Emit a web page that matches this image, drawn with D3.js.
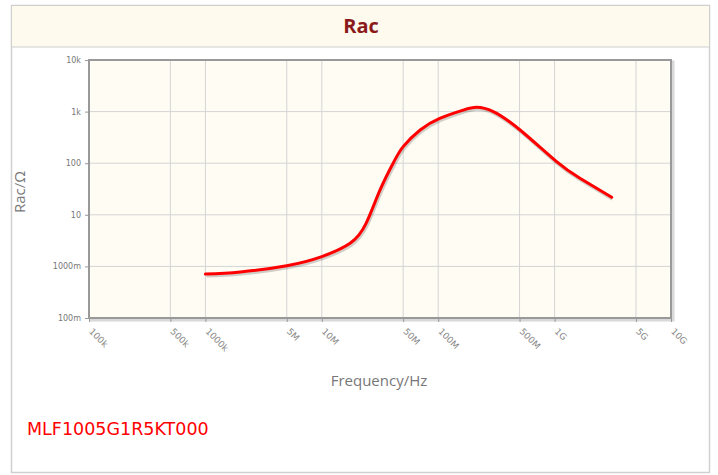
<!DOCTYPE html>
<html><head><meta charset="utf-8">
<script src="https://cdn.jsdelivr.net/npm/d3@7"></script>
<style>html,body{margin:0;padding:0;background:#fff;}svg{display:block;}</style>
</head><body>
<svg id="c" width="718" height="475"></svg>
<script>
const chartTitle = "Rac";
const partName = "MLF1005G1R5KT000";
const xTitle = "Frequency/Hz";
const yTitle = "Rac/Ω";
const freqHz = [1.0e6, 2.0e6, 5.0e6, 1.0e7, 1.75e7, 2.4e7, 3.16e7, 4.1e7, 5.0e7, 7.0e7, 1.03e8, 1.64e8, 2.14e8, 2.97e8, 5.05e8, 1.04e9, 1.65e9, 3.09e9];
const racOhm = [0.71, 0.78, 1.03, 1.55, 2.8, 6.8, 30, 100, 210, 440, 740, 1070, 1210, 1000, 440, 107, 51, 21.8];
const xTickValues = [1e5, 5e5, 1e6, 5e6, 1e7, 5e7, 1e8, 5e8, 1e9, 5e9, 1e10];
const xTickLabels = ["100k", "500k", "1000k", "5M", "10M", "50M", "100M", "500M", "1G", "5G", "10G"];
const yTickValues = [0.1, 1, 10, 100, 1000, 10000];
const yTickLabels = ["100m", "1000m", "10", "100", "1k", "10k"];

const svg = d3.select("#c");
const L = 89, R = 671, T = 60, B = 318;

svg.append("rect").attr("x", 11.5).attr("y", 5.5).attr("width", 698).attr("height", 467)
  .attr("fill", "#fff").attr("stroke", "#d0d0d0").attr("stroke-width", 1.5);
svg.append("rect").attr("x", 11.5).attr("y", 5.5).attr("width", 698).attr("height", 41.5)
  .attr("fill", "#fefaee").attr("stroke", "#d0d0d0").attr("stroke-width", 1);
svg.append("text").attr("x", 361).attr("y", 33).attr("text-anchor", "middle")
  .attr("font-family", "Open Sans, sans-serif").attr("font-weight", "bold").attr("font-size", 20)
  .attr("fill", "#8b1a1a").text(chartTitle);

const x = d3.scaleLog().domain([1e5, 1e10]).range([L, R]);
const y = d3.scaleLog().domain([0.1, 1e4]).range([B, T]);

svg.append("rect").attr("x", L + 2).attr("y", T + 2).attr("width", R - L).attr("height", B - T)
  .attr("fill", "none").attr("stroke", "#d8d8d8").attr("stroke-width", 3);
svg.append("rect").attr("x", L).attr("y", T).attr("width", R - L).attr("height", B - T)
  .attr("fill", "#fffcf4");

const g = svg.append("g");
g.selectAll("line.vx").data(xTickValues).join("line")
  .attr("x1", d => x(d)).attr("x2", d => x(d)).attr("y1", T).attr("y2", B)
  .attr("stroke", "#d4d4d4").attr("stroke-width", 1);
g.selectAll("line.hy").data(yTickValues).join("line")
  .attr("x1", L).attr("x2", R).attr("y1", d => y(d)).attr("y2", d => y(d))
  .attr("stroke", "#d4d4d4").attr("stroke-width", 1);

const xAxis = d3.axisBottom(x).tickValues(xTickValues).tickFormat((d, i) => xTickLabels[i]).tickSizeInner(4).tickSizeOuter(0);
const ax = svg.append("g").attr("transform", `translate(0,${B})`).call(xAxis);
ax.select(".domain").remove();
ax.selectAll(".tick line").attr("stroke", "#999");
ax.selectAll(".tick text").attr("fill", "#888").attr("font-family", "DejaVu Sans, sans-serif").attr("font-size", 9)
  .attr("text-anchor", "start").attr("dy", 0).attr("y", 0)
  .attr("transform", "translate(-1,14) rotate(45)");

const yAxis = d3.axisLeft(y).tickValues(yTickValues).tickFormat((d, i) => yTickLabels[i]).tickSizeInner(4).tickSizeOuter(0);
const ay = svg.append("g").attr("transform", `translate(${L},0)`).call(yAxis);
ay.select(".domain").remove();
ay.selectAll(".tick line").attr("stroke", "#999");
ay.selectAll(".tick text").attr("fill", "#777").attr("font-family", "DejaVu Sans, sans-serif").attr("font-size", 8).attr("x", -8);

svg.append("rect").attr("x", L).attr("y", T).attr("width", R - L).attr("height", B - T)
  .attr("fill", "none").attr("stroke", "#999").attr("stroke-width", 2);

const data = freqHz.map((f, i) => [f, racOhm[i]]);
const line = d3.line().x(d => x(d[0])).y(d => y(d[1])).curve(d3.curveNatural);
svg.append("path").datum(data).attr("d", line).attr("fill", "none")
  .attr("stroke", "rgba(0,0,0,0.18)").attr("stroke-width", 4).attr("transform", "translate(1,1.5)");
svg.append("path").datum(data).attr("d", line).attr("fill", "none")
  .attr("stroke", "#ff0000").attr("stroke-width", 3).attr("stroke-linecap", "round");

svg.append("text").attr("x", 379).attr("y", 386).attr("text-anchor", "middle")
  .attr("font-family", "Open Sans, sans-serif").attr("font-size", 15).attr("fill", "#777").text(xTitle);
svg.append("text").attr("transform", "translate(25,192) rotate(-90)").attr("text-anchor", "middle")
  .attr("font-family", "Open Sans, sans-serif").attr("font-size", 15).attr("fill", "#777").text(yTitle);

svg.append("text").attr("x", 27).attr("y", 435)
  .attr("font-family", "DejaVu Sans, sans-serif").attr("font-size", 17.5).attr("fill", "#ff0000").text(partName);
</script>
</body></html>
